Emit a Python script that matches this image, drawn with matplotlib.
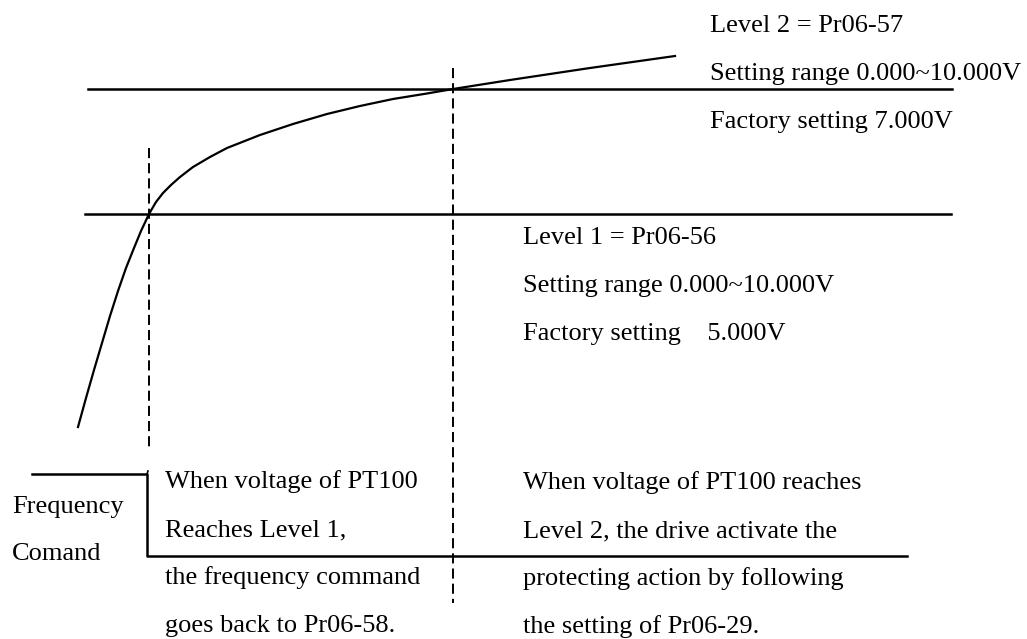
import numpy as np
import matplotlib.pyplot as plt

# PT100 voltage curve (pixel units, y down)
curve_x = [78, 86, 94, 102, 110, 118, 126, 134, 141, 149, 156, 163, 171, 180, 193,
           210, 227, 260, 293, 327, 360, 393, 427, 453, 510, 590, 675]
curve_y = [427, 398, 370, 343, 316, 291, 268, 248, 231, 214, 202, 193, 185, 177, 167,
           157, 148, 135, 124, 114, 106, 99, 93.5, 89, 80, 68, 56]

# reference levels: (y, x_start, x_end)
level_lines = [(89, 88, 952), (214, 85, 951)]
# dashed markers: (x, y_top, y_bottom)
marker_lines = [(149, 148, 448), (453, 68, 603)]

# frequency command step
step_x = [32, 147, 147, 907]
step_y = [474, 474, 556, 556]

level2_text = ["Level 2 = Pr06-57", "Setting range 0.000~10.000V", "Factory setting 7.000V"]
level1_text = ["Level 1 = Pr06-56", "Setting range 0.000~10.000V", "Factory setting    5.000V"]
left_note = ["When voltage of PT100", "Reaches Level 1,", "the frequency command",
             "goes back to Pr06-58."]
right_note = ["When voltage of PT100 reaches", "Level 2, the drive activate the",
              "protecting action by following", "the setting of Pr06-29."]
freq_label = ["Frequency", "Comand"]

plt.rcParams["font.family"] = ["Liberation Serif", "DejaVu Serif"]
fs = 19
lead = 48

fig = plt.figure(figsize=(10.27, 6.39), dpi=100)
ax = fig.add_axes([0, 0, 1, 1])
ax.set_xlim(0, 1027)
ax.set_ylim(639, 0)
ax.axis("off")

ax.plot(curve_x, curve_y, color="black", lw=1.6, solid_joinstyle="round")

for y, x0, x1 in level_lines:
    ax.plot([x0, x1], [y, y], color="black", lw=1.8)

for x, y0, y1 in marker_lines:
    ax.plot([x, x], [y0, y1], color="black", lw=1.4, dashes=(5.2, 2.6))

ax.plot(step_x, step_y, color="black", lw=1.8)
ax.plot([147, 148], [474, 471], color="black", lw=1.2)


def block(lines, x, y0):
    for i, s in enumerate(lines):
        ax.text(x, y0 + i * lead, s, fontsize=fs, ha="left", va="baseline")


block(level2_text, 710, 32)
block(level1_text, 523, 244)
block(left_note, 165, 488)
block(right_note, 523, 489)
ax.text(12, 513, freq_label[0], fontsize=fs, ha="left", va="baseline")
ax.text(12, 560, freq_label[1], fontsize=fs, ha="left", va="baseline")

fig.savefig("out.png", dpi=100)
